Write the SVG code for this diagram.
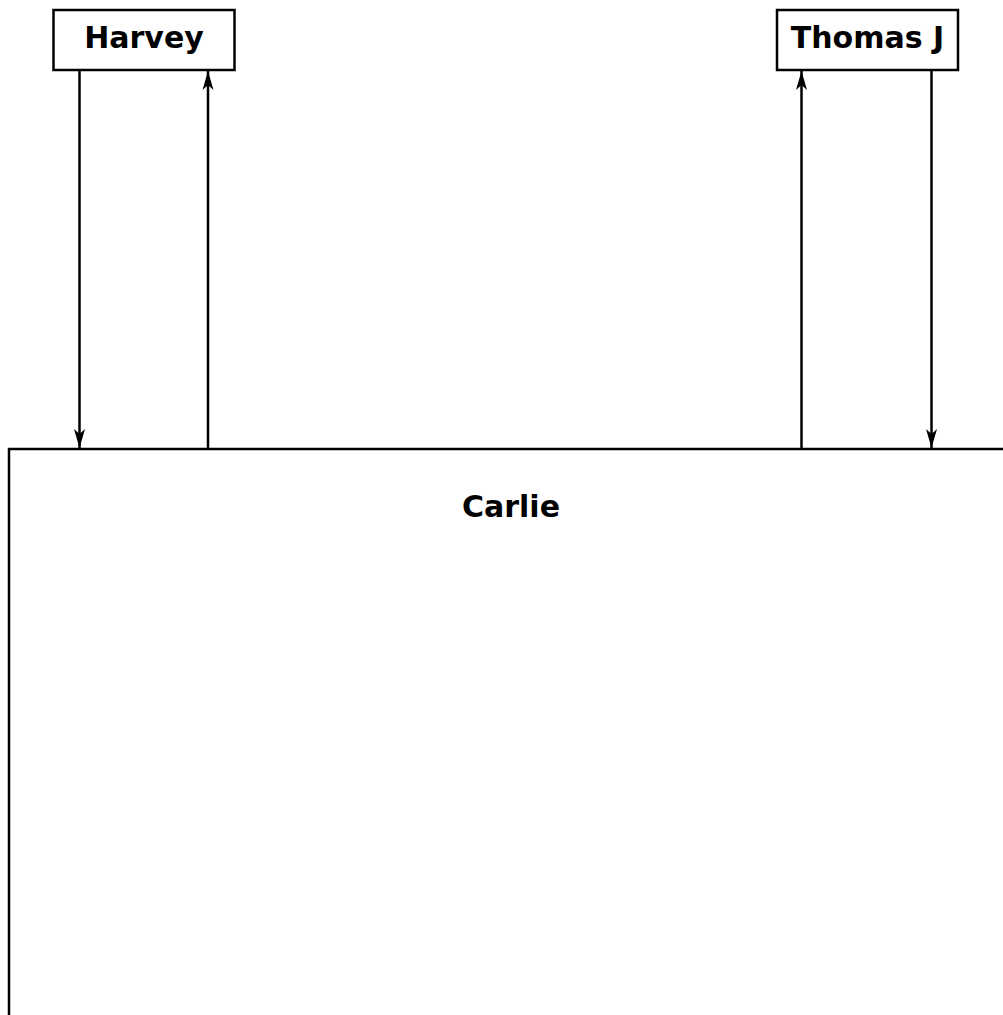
<svg xmlns="http://www.w3.org/2000/svg" width="1003" height="1015" viewBox="0 0 1003 1015">
<style>
.box{fill:#fff;stroke:#000;stroke-width:2.5}
.lbl{font-family:"DejaVu Sans",sans-serif;font-weight:bold;font-size:30px;fill:#000;text-anchor:middle}
.edge{stroke:#000;stroke-width:2.5;fill:none;marker-end:url(#ah)}
</style>
<defs>
<marker id="ah" markerUnits="userSpaceOnUse" markerWidth="22" markerHeight="14" viewBox="-20 -7 22 14" refX="0" refY="0" orient="auto">
<path d="M0,0 L-19,-5.5 L-14,0 L-19,5.5 Z" fill="#000"/>
</marker>
</defs>
<g id="Carlie">
<rect class="box" x="9" y="449" width="1004" height="600"/>
<text class="lbl" x="511" y="517">Carlie</text>
</g>
<g id="Harvey">
<rect class="box" x="53.5" y="10" width="181" height="60"/>
<text class="lbl" x="144" y="48">Harvey</text>
</g>
<g id="ThomasJ">
<rect class="box" x="777" y="10" width="181" height="60"/>
<text class="lbl" x="867.5" y="48">Thomas J</text>
</g>
<g id="connectors">
<line class="edge" x1="79.5" y1="71" x2="79.5" y2="448"/>
<line class="edge" x1="208" y1="448" x2="208" y2="71"/>
<line class="edge" x1="801.5" y1="448" x2="801.5" y2="71"/>
<line class="edge" x1="931.5" y1="71" x2="931.5" y2="448"/>
</g>
</svg>
